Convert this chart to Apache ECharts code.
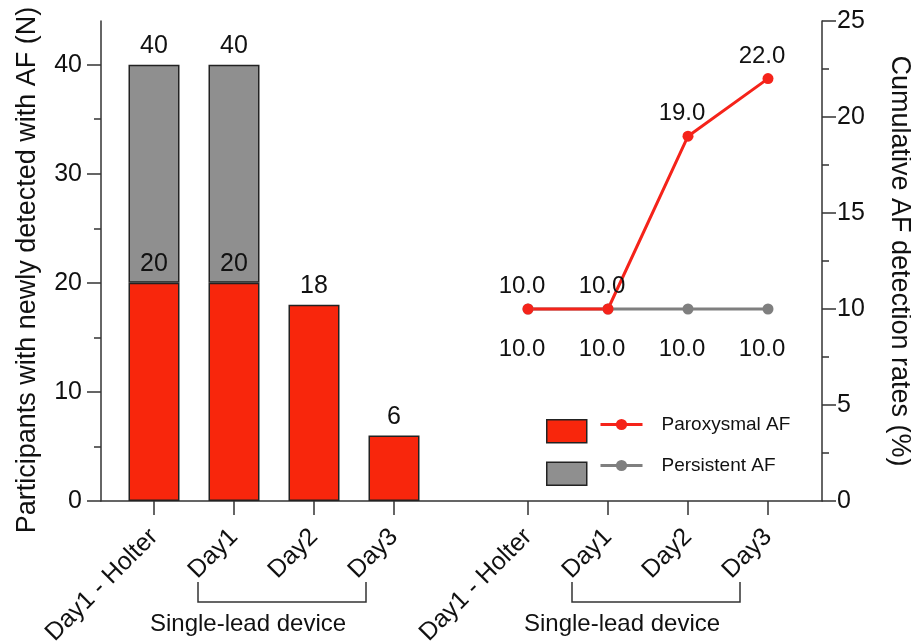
<!DOCTYPE html>
<html><head><meta charset="utf-8">
<script src="https://cdn.jsdelivr.net/npm/echarts@6/dist/echarts.min.js"></script>
<style>html,body{margin:0;padding:0;background:#fff}#c{width:911px;height:642px}</style>
</head><body><div id="c"></div>
<script>
// ---- data ----
const categories = ['Day1 - Holter', 'Day1', 'Day2', 'Day3'];
const paroxN = [20, 20, 18, 6];
const persistN = [20, 20, null, null];
const paroxRate = [10.0, 10.0, 19.0, 22.0];
const persistRate = [10.0, 10.0, 10.0, 10.0];
const leftTicks = [0, 10, 20, 30, 40];
const leftMinorTicks = [5, 15, 25, 35];
const groupLabel = 'Single-lead device';
const leftTitle = 'Participants with newly detected with AF (N)';
const rightTitle = 'Cumulative AF detection rates (%)';

const FONT = '"Liberation Sans", Arial, Helvetica, sans-serif';
const RED = '#F8260C', GRAY = '#8F8F8F', LRED = '#F5231A', LGRAY = '#7F7F7F';
const AX = '#333';
const TXT = '#111';

const chart = echarts.init(document.getElementById('c'), null, {renderer: 'canvas'});
const catAxis = (gi) => ({
  type: 'category', gridIndex: gi, data: categories, boundaryGap: true,
  axisLine: {show: false},
  axisTick: {show: true, alignWithLabel: true, length: 14, lineStyle: {color: AX, width: 1.5}},
  axisLabel: {rotate: 45, fontSize: 25, margin: 32, color: TXT, fontFamily: FONT, interval: 0},
  splitLine: {show: false}
});
const G = {top: 21, bottom: 141, containLabel: false, outerBoundsMode: 'none'};
const option = {
  backgroundColor: '#fff',
  animation: false,
  textStyle: {fontFamily: FONT},
  grid: [
    Object.assign({left: 101, right: 89}, G),
    Object.assign({left: 114, width: 320}, G),
    Object.assign({left: 488, width: 320}, G)
  ],
  xAxis: [
    {type: 'value', gridIndex: 0, min: 0, max: 1,
     axisLine: {show: true, lineStyle: {color: AX, width: 1.5}},
     axisTick: {show: false}, axisLabel: {show: false}, splitLine: {show: false}},
    catAxis(1),
    catAxis(2)
  ],
  yAxis: [
    {type: 'value', gridIndex: 0, position: 'left', min: 0, max: 44,
     axisLine: {show: true, lineStyle: {color: AX, width: 1.5}},
     axisTick: {show: true, length: 14, customValues: leftTicks, lineStyle: {color: AX, width: 1.5}},
     axisLabel: {show: true, customValues: leftTicks, fontSize: 25, margin: 19, color: TXT, fontFamily: FONT},
     splitLine: {show: false},
     name: leftTitle, nameLocation: 'middle', nameGap: 60, nameRotate: 90,
     nameTextStyle: {fontSize: 27, color: TXT, fontFamily: FONT, padding: [0, 18, 0, 0]}},
    {type: 'value', gridIndex: 0, position: 'right', min: 0, max: 25, interval: 5,
     axisLine: {show: true, lineStyle: {color: AX, width: 1.5}},
     axisTick: {show: true, length: 14, lineStyle: {color: AX, width: 1.5}},
     minorTick: {show: true, splitNumber: 2, length: 7, lineStyle: {color: AX, width: 1.5}},
     axisLabel: {fontSize: 25, margin: 15, color: TXT, fontFamily: FONT},
     splitLine: {show: false}, minorSplitLine: {show: false},
     name: rightTitle, nameLocation: 'middle', nameGap: 64, nameRotate: -90,
     nameTextStyle: {fontSize: 27, color: TXT, fontFamily: FONT}},
    {type: 'value', gridIndex: 0, position: 'left', min: 0, max: 44,
     axisLine: {show: false},
     axisTick: {show: true, length: 7, customValues: leftMinorTicks, lineStyle: {color: AX, width: 1.5}},
     axisLabel: {show: false}, splitLine: {show: false}},
    {type: 'value', gridIndex: 1, min: 0, max: 44, show: false},
    {type: 'value', gridIndex: 2, min: 0, max: 25, show: false}
  ],
  legend: [
    {orient: 'vertical', left: 546, top: 419, padding: 0, itemWidth: 40, itemHeight: 23, itemGap: 18,
     icon: 'rect', data: ['Paroxysmal AF (N)', 'Persistent AF (N)'],
     formatter: () => '', selectedMode: false,
     itemStyle: {borderColor: '#222', borderWidth: 1.5}},
    {orient: 'vertical', left: 599, top: 415, padding: 0, itemWidth: 42, itemHeight: 14, itemGap: 22,
     data: ['Paroxysmal AF', 'Persistent AF'], selectedMode: false,
     lineStyle: {width: 3},
     textStyle: {fontSize: 19, color: TXT, fontFamily: FONT, padding: [0, 0, 0, 14]}}
  ],
  series: [
    {name: 'Paroxysmal AF (N)', type: 'bar', xAxisIndex: 1, yAxisIndex: 3, stack: 'n',
     data: paroxN, barWidth: 51,
     itemStyle: {color: RED, borderColor: '#222', borderWidth: 1.5},
     label: {show: true, position: 'top', distance: 6, fontSize: 25, color: TXT, fontFamily: FONT}},
    {name: 'Persistent AF (N)', type: 'bar', xAxisIndex: 1, yAxisIndex: 3, stack: 'n',
     data: persistN, barWidth: 51,
     itemStyle: {color: GRAY, borderColor: '#222', borderWidth: 1.5},
     label: {show: true, position: 'top', distance: 6, fontSize: 25, color: TXT, fontFamily: FONT,
       formatter: (p) => String(paroxN[p.dataIndex] + persistN[p.dataIndex])}},
    {name: 'Persistent AF', type: 'line', xAxisIndex: 2, yAxisIndex: 4,
     data: persistRate, symbol: 'circle', symbolSize: 11,
     lineStyle: {color: LGRAY, width: 3}, itemStyle: {color: LGRAY},
     label: {show: true, position: 'bottom', distance: 23, fontSize: 24, color: TXT, fontFamily: FONT,
       offset: [-6, 0], formatter: (p) => p.value.toFixed(1)}},
    {name: 'Paroxysmal AF', type: 'line', xAxisIndex: 2, yAxisIndex: 4,
     data: paroxRate, symbol: 'circle', symbolSize: 11,
     lineStyle: {color: LRED, width: 3}, itemStyle: {color: LRED},
     label: {show: true, position: 'top', distance: 5, fontSize: 24, color: TXT, fontFamily: FONT,
       offset: [-6, 0], formatter: (p) => p.value.toFixed(1)}}
  ]
};
chart.setOption(option);

// group brackets under the single-lead device categories, positioned from the axes
const baseY = chart.convertToPixel({yAxisIndex: 0}, 0);
const graphics = [];
[1, 2].forEach((xi) => {
  const xa = chart.convertToPixel({xAxisIndex: xi}, categories[1]);
  const xb = chart.convertToPixel({xAxisIndex: xi}, categories[3]);
  const l = xa - 36, r = xb - 28, y1 = baseY + 81, y2 = baseY + 101;
  graphics.push({type: 'polyline', shape: {points: [[l, y1], [l, y2], [r, y2], [r, y1]]},
    style: {stroke: AX, lineWidth: 1.5, fill: null}});
  graphics.push({type: 'text', x: (l + r) / 2 - 34, y: baseY + 123,
    style: {text: groupLabel, fontSize: 24, fill: TXT, fontFamily: FONT, align: 'center', verticalAlign: 'middle'}});
});
chart.setOption({graphic: graphics});
</script>
</body></html>
